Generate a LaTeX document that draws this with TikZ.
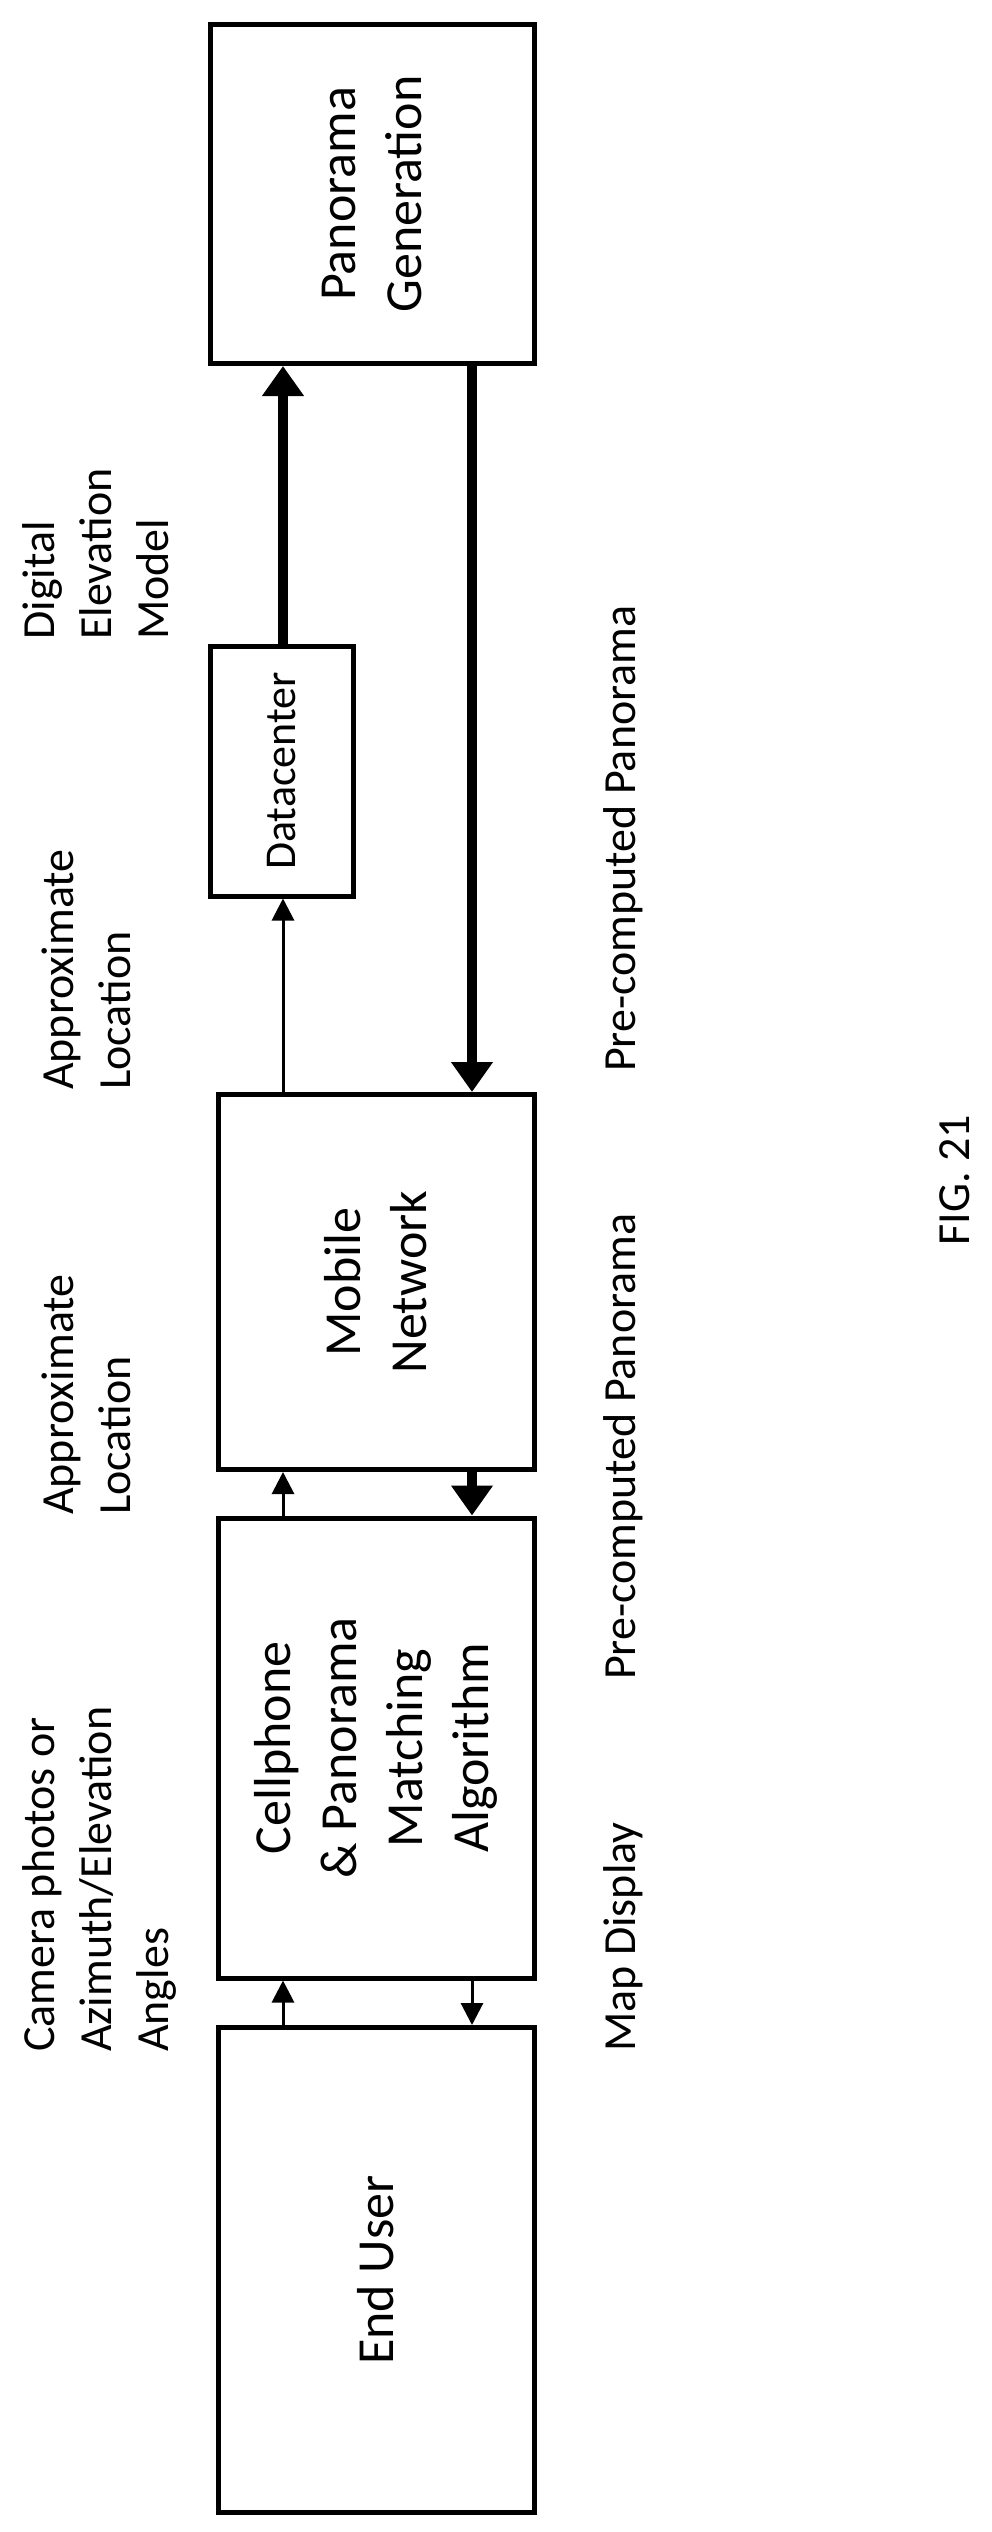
\documentclass[tikz,border=0pt]{standalone}
\usepackage{fontspec}
\setmainfont{Carlito}
\usetikzlibrary{arrows.meta}
\tikzset{block/.style={draw,line width=5pt,rotate=90,align=center,inner sep=0pt,font=\fontsize{52}{66}\selectfont},
         lbl/.style={rotate=90,align=left,anchor=north west,inner sep=0pt},
         thin arrow/.style={line width=3pt,-{Triangle[width=22pt,length=22pt]}},
         thick arrow/.style={line width=10pt,-{Triangle[width=40pt,length=30pt]}}
         }

\begin{document}
\begin{tikzpicture}[x=1pt,y=-1pt,font=\fontsize{46}{57}\selectfont]
\useasboundingbox (0,0) rectangle (992,2532);
\coordinate (xl) at (283,0);
\coordinate (xr) at (472,0);
% boxes
\node[block,minimum width=485pt,minimum height=316pt] (eu) at (376,2270) {End User};
\node[block,minimum width=460pt,minimum height=316pt] (cp) at (376,1748) {Cellphone\\ \& Panorama\\ Matching\\ Algorithm};
\node[block,minimum width=375pt,minimum height=316pt] (mn) at (376,1282) {Mobile\\ Network};
\node[block,minimum width=250pt,minimum height=143pt,font=\fontsize{44}{55}\selectfont] (dc) at (282,771) {Datacenter};
\node[block,minimum width=339pt,minimum height=324pt] (pg) at (372,194) {Panorama\\ Generation};
% connectors
\draw[thin arrow] (eu.east -| xl) -- (cp.west -| xl);
\draw[thin arrow] (cp.west -| xr) -- (eu.east -| xr);
\draw[thin arrow] (cp.east -| xl) -- (mn.west -| xl);
\draw[thick arrow] (mn.west -| xr) -- (cp.east -| xr);
\draw[thin arrow] (mn.east -| xl) -- (dc.west -| xl);
\draw[thick arrow] (dc.east -| xl) -- (pg.west -| xl);
\draw[thick arrow] (pg.west -| xr) -- (mn.east -| xr);
% labels
\node[lbl] (t1) at (22,2052) {Camera photos or\\ Azimuth/Elevation\\ Angles};
\node[lbl] (t2) at (603,2052) {Map Display};
\node[lbl] (t3) at (603,1680) {Pre-computed Panorama};
\node[lbl] (t4) at (603,1072) {Pre-computed Panorama};
\node[lbl] (t5) at (42,1515) {Approximate\\ Location};
\node[lbl] (t6) at (42,1090) {Approximate\\ Location};
\node[lbl] (t7) at (22,640) {Digital\\ Elevation\\ Model};
\node[rotate=90] (fig) at (955,1180) {FIG. 21};
\end{tikzpicture}
\end{document}
